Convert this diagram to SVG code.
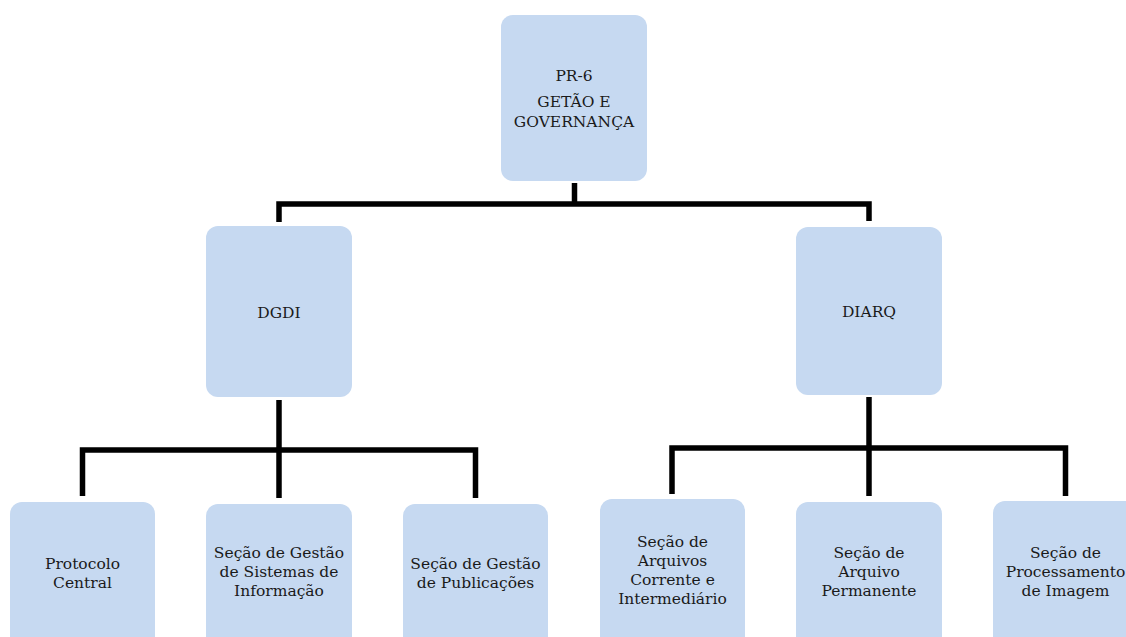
<svg xmlns="http://www.w3.org/2000/svg" width="1126" height="637" viewBox="0 0 1126 637">
<style>
.box{fill:#c6d9f1;}
.t{font-family:"DejaVu Serif","Liberation Serif",serif;font-size:15.5px;fill:#1a1a1a;text-anchor:middle;}
.c{fill:none;stroke:#000;stroke-width:5.5;stroke-linejoin:miter;stroke-linecap:butt;}
</style>
<rect width="1126" height="637" fill="#fff"/>
<g id="connectors">
<path class="c" d="M574.5,183 V204"/>
<path class="c" d="M279,222 V204 H869 V221"/>
<path class="c" d="M279,400 V498"/>
<path class="c" d="M82.5,496 V450 H475.5 V498"/>
<path class="c" d="M869,397 V496"/>
<path class="c" d="M672,494 V448 H1065.5 V496"/>
</g>
<g id="pr6">
<rect class="box" x="501" y="15" width="146" height="166" rx="12"/>
<text class="t" x="574" y="81">PR-6</text>
<text class="t" x="574" y="107">GETÃO E</text>
<text class="t" x="574" y="126.5">GOVERNANÇA</text>
</g>
<g id="dgdi">
<rect class="box" x="206" y="226" width="146" height="171" rx="12"/>
<text class="t" x="279" y="318">DGDI</text>
</g>
<g id="diarq">
<rect class="box" x="796" y="227" width="146" height="168" rx="12"/>
<text class="t" x="869" y="317">DIARQ</text>
</g>
<g id="protocolo">
<rect class="box" x="10" y="502" width="145" height="170" rx="12"/>
<text class="t" x="82.5" y="569">Protocolo</text>
<text class="t" x="82.5" y="588">Central</text>
</g>
<g id="sistemas">
<rect class="box" x="206" y="504" width="146" height="170" rx="12"/>
<text class="t" x="279" y="558">Seção de Gestão</text>
<text class="t" x="279" y="577">de Sistemas de</text>
<text class="t" x="279" y="596">Informação</text>
</g>
<g id="publicacoes">
<rect class="box" x="403" y="504" width="145" height="170" rx="12"/>
<text class="t" x="475.5" y="569">Seção de Gestão</text>
<text class="t" x="475.5" y="588">de Publicações</text>
</g>
<g id="arquivos">
<rect class="box" x="600" y="499" width="145" height="170" rx="12"/>
<text class="t" x="672.5" y="547">Seção de</text>
<text class="t" x="672.5" y="566">Arquivos</text>
<text class="t" x="672.5" y="585">Corrente e</text>
<text class="t" x="672.5" y="604">Intermediário</text>
</g>
<g id="permanente">
<rect class="box" x="796" y="502" width="146" height="170" rx="12"/>
<text class="t" x="869" y="558">Seção de</text>
<text class="t" x="869" y="577">Arquivo</text>
<text class="t" x="869" y="596">Permanente</text>
</g>
<g id="processamento">
<rect class="box" x="993" y="501" width="146" height="170" rx="12"/>
<text class="t" x="1065.5" y="558">Seção de</text>
<text class="t" x="1065.5" y="577">Processamento</text>
<text class="t" x="1065.5" y="596">de Imagem</text>
</g>
</svg>
